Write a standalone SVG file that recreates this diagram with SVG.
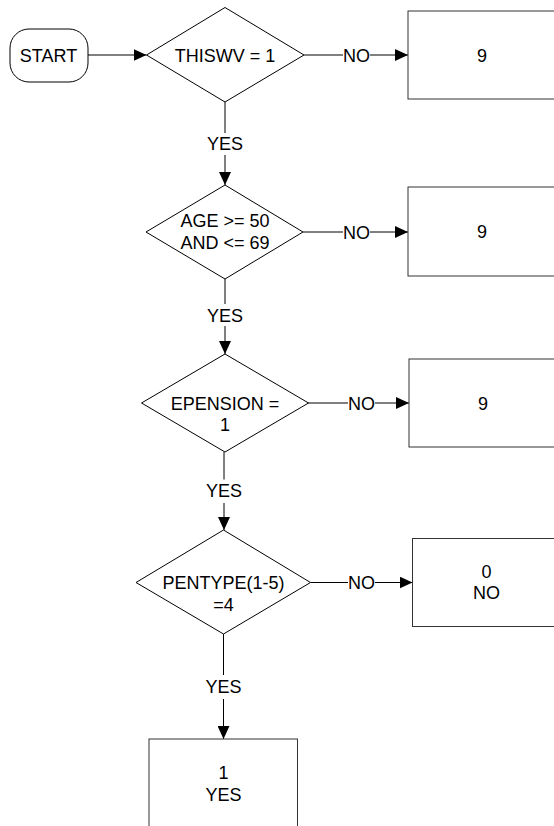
<svg xmlns="http://www.w3.org/2000/svg" width="554" height="826" viewBox="0 0 554 826">
<style>
.shape{fill:#fff;stroke:#000;stroke-width:1}
.box{fill:#fff;stroke:#333;stroke-width:1}
.line{fill:none;stroke:#000;stroke-width:1}
text{font-family:"Liberation Sans",Arial,sans-serif;font-size:18px;fill:#000;text-anchor:middle}
</style>
<defs>
<marker id="arr" markerUnits="userSpaceOnUse" markerWidth="13" markerHeight="12" refX="13" refY="6" orient="auto">
<path d="M0,0 L13,6 L0,12 z" fill="#000"/>
</marker>
</defs>
<rect width="554" height="826" fill="#fff"/>
<g id="connectors">
<line class="line" x1="88" y1="55" x2="146.5" y2="55" marker-end="url(#arr)"/>
<line class="line" x1="304" y1="55" x2="343" y2="55"/>
<line class="line" x1="370" y1="55" x2="408" y2="55" marker-end="url(#arr)"/>
<text x="356.5" y="61.5">NO</text>
<line class="line" x1="225" y1="102" x2="225" y2="133"/>
<line class="line" x1="225" y1="155" x2="225" y2="185" marker-end="url(#arr)"/>
<text x="225" y="149.5">YES</text>
<line class="line" x1="303" y1="232" x2="343" y2="232"/>
<line class="line" x1="370" y1="232" x2="408" y2="232" marker-end="url(#arr)"/>
<text x="356.5" y="238.5">NO</text>
<line class="line" x1="225" y1="279" x2="225" y2="304"/>
<line class="line" x1="225" y1="326" x2="225" y2="354" marker-end="url(#arr)"/>
<text x="225" y="321.5">YES</text>
<line class="line" x1="308" y1="403" x2="348" y2="403"/>
<line class="line" x1="375" y1="403" x2="409" y2="403" marker-end="url(#arr)"/>
<text x="361.5" y="409.5">NO</text>
<line class="line" x1="224" y1="452" x2="224" y2="479.5"/>
<line class="line" x1="224" y1="503" x2="224" y2="530" marker-end="url(#arr)"/>
<text x="224" y="497">YES</text>
<line class="line" x1="310.5" y1="582.5" x2="348" y2="582.5"/>
<line class="line" x1="375" y1="582.5" x2="412.5" y2="582.5" marker-end="url(#arr)"/>
<text x="361.5" y="589">NO</text>
<line class="line" x1="223.5" y1="634" x2="223.5" y2="675"/>
<line class="line" x1="223.5" y1="699" x2="223.5" y2="739" marker-end="url(#arr)"/>
<text x="223.5" y="693">YES</text>
</g>
<g id="start">
<rect class="shape" x="10" y="29" width="78" height="53" rx="19" ry="19"/>
<text x="48.5" y="61.5">START</text>
</g>
<g id="d1">
<polygon class="shape" points="225,7.5 304,55 225,102 146.5,55"/>
<text x="225" y="61.5">THISWV = 1</text>
</g>
<g id="b1">
<rect class="box" x="408" y="11" width="148" height="88"/>
<text x="482" y="61.5">9</text>
</g>
<g id="d2">
<polygon class="shape" points="225,185 303,232 225,279 146,232"/>
<text x="225" y="226.5">AGE &gt;= 50</text>
<text x="225" y="249">AND &lt;= 69</text>
</g>
<g id="b2">
<rect class="box" x="408" y="187" width="148" height="89"/>
<text x="482" y="238">9</text>
</g>
<g id="d3">
<polygon class="shape" points="225,354 308.5,403 225,452 141.5,403"/>
<text x="225" y="409.5">EPENSION =</text>
<text x="225" y="431">1</text>
</g>
<g id="b3">
<rect class="box" x="409" y="359" width="148" height="88"/>
<text x="483" y="409.5">9</text>
</g>
<g id="d4">
<polygon class="shape" points="223.5,530 310.5,582.5 223.5,634 136,582.5"/>
<text x="223.5" y="589">PENTYPE(1-5)</text>
<text x="223.5" y="610.5">=4</text>
</g>
<g id="b4">
<rect class="box" x="412.5" y="538.5" width="148" height="88"/>
<text x="486.5" y="577.5">0</text>
<text x="486.5" y="599">NO</text>
</g>
<g id="b5">
<rect class="box" x="149" y="739" width="148.5" height="100"/>
<text x="223.5" y="779">1</text>
<text x="223.5" y="800.5">YES</text>
</g>
</svg>
